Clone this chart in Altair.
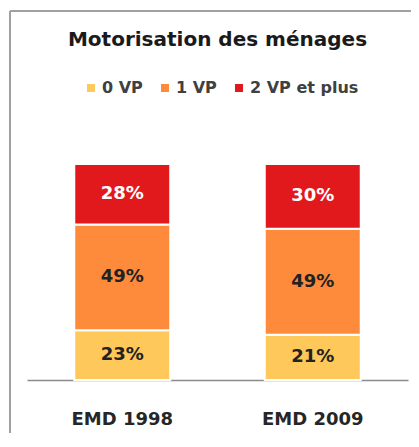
import altair as alt
import pandas as pd

surveys = ["EMD 1998", "EMD 2009"]
categories = ["0 VP", "1 VP", "2 VP et plus"]
colors = ["#FEC85A", "#FD8B3B", "#E2191C"]
share_1998 = [23, 49, 28]
share_2009 = [21, 49, 30]

rows = []
for s, vals in zip(surveys, [share_1998, share_2009]):
    for i, (c, v) in enumerate(zip(categories, vals)):
        rows.append({"survey": s, "cat": c, "order": i, "value": v,
                     "label": f"{v}%", "white": c == "2 VP et plus"})
df = pd.DataFrame(rows)

FONT = "DejaVu Sans"

base = alt.Chart(df).transform_stack(
    stack="value", groupby=["survey"], as_=["y0", "y1"],
    sort=[alt.SortField("order", order="ascending")]
).transform_calculate(mid="(datum.y0 + datum.y1) / 2")

x_enc = alt.X("survey:N", sort=surveys,
              scale=alt.Scale(paddingInner=0.5, paddingOuter=0.25),
              axis=alt.Axis(title=None, labelAngle=0, ticks=False,
                            domainColor="#8a8a8a", domainWidth=1.5,
                            labelFont=FONT, labelFontWeight="bold",
                            labelFontSize=18, labelColor="#262626",
                            labelPadding=30))

bars = base.mark_bar(size=96, stroke="white", strokeWidth=2).encode(
    x=x_enc,
    y=alt.Y("y0:Q", scale=alt.Scale(domain=[0, 100]), axis=None),
    y2="y1:Q",
    color=alt.Color("cat:N", sort=categories,
                    scale=alt.Scale(domain=categories, range=colors),
                    legend=alt.Legend(title=None, orient="none",
                                      direction="horizontal",
                                      legendX=56, legendY=-84,
                                      symbolType="square", symbolSize=64,
                                      symbolStrokeWidth=0,
                                      labelFont=FONT, labelFontWeight="bold",
                                      labelFontSize=16, labelColor="#404040",
                                      labelOffset=3, columnPadding=14)),
)

labels = base.mark_text(font=FONT, fontWeight="bold", fontSize=18,
                        baseline="middle").encode(
    x=alt.X("survey:N", sort=surveys),
    y=alt.Y("mid:Q"),
    text="label:N",
    color=alt.condition("datum.white", alt.value("white"), alt.value("#222222")),
)

one = pd.DataFrame({"a": [0]})
top_border = alt.Chart(one).mark_rule(color="#a0a0a0", strokeWidth=2).encode(
    x=alt.value(-17), x2=alt.value(384), y=alt.value(-153))
left_border = alt.Chart(one).mark_rule(color="#a0a0a0", strokeWidth=2).encode(
    x=alt.value(-17), y=alt.value(-153), y2=alt.value(300))

chart = alt.layer(top_border, left_border, bars, labels).properties(
    width=381, height=216,
    padding={"left": 19, "top": 156, "right": 3, "bottom": 53},
    autosize=alt.AutoSizeParams(type="none"),
    title=alt.TitleParams("Motorisation des ménages", font=FONT,
                          fontWeight="bold", fontSize=20, color="#1a1a1a",
                          anchor="middle", frame="group", offset=-40),
).configure_view(stroke=None)

chart.save("out.html", embed_options={"renderer": "svg", "actions": False})
